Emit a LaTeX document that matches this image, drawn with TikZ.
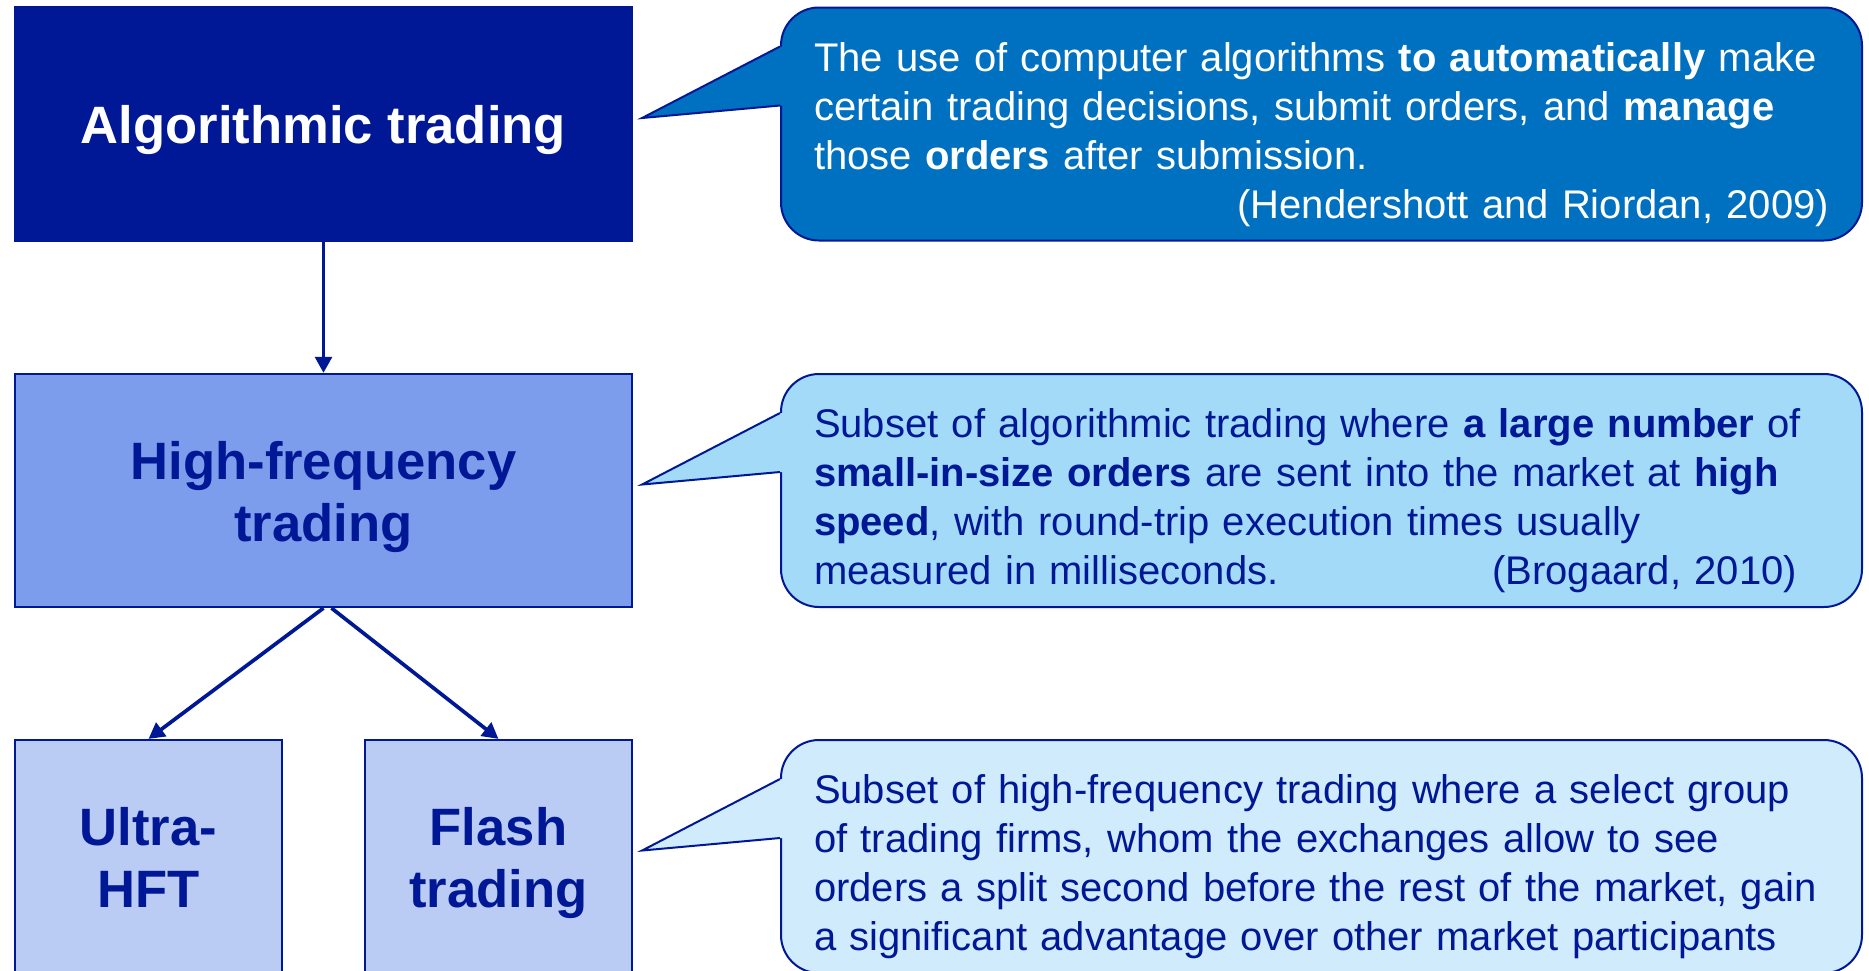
\documentclass[tikz,border=0pt]{standalone}
\usepackage{fontspec}
\setmainfont{Liberation Sans}
\usetikzlibrary{arrows.meta}

\definecolor{navy}{RGB}{0,24,150}
\definecolor{hfblue}{RGB}{123,157,235}
\definecolor{subblue}{RGB}{187,204,244}
\definecolor{noteA}{RGB}{0,112,192}
\definecolor{noteB}{RGB}{162,218,248}
\definecolor{noteC}{RGB}{208,235,251}

\begin{document}
\begin{tikzpicture}[x=0.5pt, y=-0.5pt,
  box/.style={draw=navy, line width=1.1pt, minimum height=116.5pt, inner sep=0pt,
    text height=56.5pt, align=center, font=\fontsize{26.3pt}{31pt}\selectfont\bfseries},
  note/.style={draw=navy, line width=1pt, rounded corners=19pt, minimum height=116.5pt,
    text width=507.5pt, inner xsep=16.5pt, text height=24.8pt, align=left,
    font=\fontsize{20pt}{24.5pt}\selectfont},
  link/.style={navy, line width=1.85pt, -{Triangle[length=8pt, width=8.3pt]}},
  edge/.style={navy, line width=1pt}]

\useasboundingbox (0,0) rectangle (1869,970);
\clip (0,0) rectangle (1869,970);

% boxes on the left
\node[box, fill=navy, text=white, minimum width=308.5pt, text height=25.5pt] (algo) at (323.5,124) {Algorithmic trading};
\node[box, fill=hfblue, text=navy, minimum width=308.5pt] (hft) at (323.5,490.5) {High-frequency\\trading};
\node[box, fill=subblue, text=navy, minimum width=133.5pt, text height=51pt] (ultra) at (148.5,856.5) {Ultra-\\HFT};
\node[box, fill=subblue, text=navy, minimum width=133.5pt] (flash) at (498.5,856.5) {Flash\\trading};

\draw[link] (algo) -- (hft);
\draw[link] (hft.south) -- (ultra.north);
\draw[link] ([xshift=4pt]hft.south) -- (flash.north);

% callouts on the right
\node[note, fill=noteA, text=white] (note1) at (1321.5,124)
  {The use of computer algorithms \textbf{to automatically} make\\
   certain trading decisions, submit orders, and \textbf{manage}\\
   those \textbf{orders} after submission.\\
   \hfill(Hendershott and Riordan, 2009)};
\node[note, fill=noteB, text=navy] (note2) at (1321.5,490.5)
  {Subset of algorithmic trading where \textbf{a large number} of\\
   \textbf{small-in-size orders} are sent into the market at \textbf{high}\\
   \textbf{speed}, with round-trip execution times usually\\
   measured in milliseconds.\hfill(Brogaard, 2010)\hspace*{16pt}};
\node[note, fill=noteC, text=navy] (note3) at (1321.5,856.5)
  {Subset of high-frequency trading where a select group\\
   of trading firms, whom the exchanges allow to see\\
   orders a split second before the rest of the market, gain\\
   a significant advantage over other market participants};

% pointers
\coordinate (tip1) at ([xshift=4.5pt, yshift=3pt]algo.east);
\coordinate (top1) at ([yshift=-20pt]note1.north west);
\coordinate (bot1) at ([yshift=-49.5pt]note1.north west);
\fill[noteA] (tip1) -- (top1) -- ([xshift=1.5pt]top1) -- ([xshift=1.5pt]bot1) -- (bot1) -- cycle;
\draw[edge] (top1) -- (tip1) -- (bot1);

\coordinate (tip2) at ([xshift=4.5pt, yshift=3pt]hft.east);
\coordinate (top2) at ([yshift=-20pt]note2.north west);
\coordinate (bot2) at ([yshift=-49.5pt]note2.north west);
\fill[noteB] (tip2) -- (top2) -- ([xshift=1.5pt]top2) -- ([xshift=1.5pt]bot2) -- (bot2) -- cycle;
\draw[edge] (top2) -- (tip2) -- (bot2);

\coordinate (tip3) at ([xshift=4.5pt, yshift=3pt]flash.east);
\coordinate (top3) at ([yshift=-20pt]note3.north west);
\coordinate (bot3) at ([yshift=-49.5pt]note3.north west);
\fill[noteC] (tip3) -- (top3) -- ([xshift=1.5pt]top3) -- ([xshift=1.5pt]bot3) -- (bot3) -- cycle;
\draw[edge] (top3) -- (tip3) -- (bot3);
\end{tikzpicture}
\end{document}
